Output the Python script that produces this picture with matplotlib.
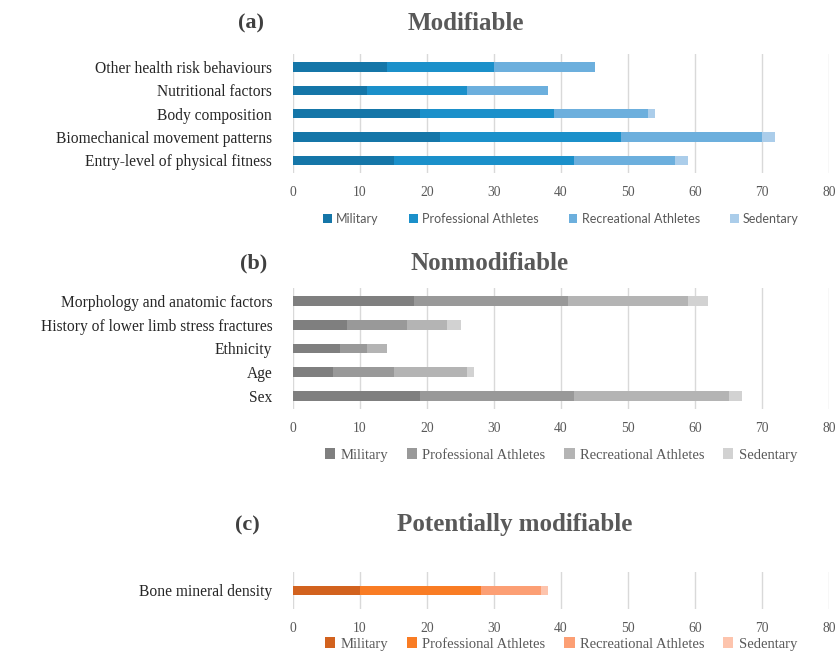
import matplotlib
matplotlib.use("Agg")
import matplotlib.pyplot as plt
import numpy as np

groups = ["Military", "Professional Athletes", "Recreational Athletes", "Sedentary"]

# (a) modifiable, listed top to bottom
mod_labels = ["Other health risk behaviours", "Nutritional factors", "Body composition",
              "Biomechanical movement patterns", "Entry-level of physical fitness"]
mod_military = [14, 11, 19, 22, 15]
mod_pro = [16, 15, 20, 27, 27]
mod_rec = [15, 12, 14, 21, 15]
mod_sed = [0, 0, 1, 2, 2]

# (b) nonmodifiable
non_labels = ["Morphology and anatomic factors", "History of lower limb stress fractures",
              "Ethnicity", "Age", "Sex"]
non_military = [18, 8, 7, 6, 19]
non_pro = [23, 9, 4, 9, 23]
non_rec = [18, 6, 3, 11, 23]
non_sed = [3, 2, 0, 1, 2]

# (c) potentially modifiable
pot_labels = ["Bone mineral density"]
pot_military = [10]
pot_pro = [18]
pot_rec = [9]
pot_sed = [1]

blues = ["#1576a8", "#1b90ca", "#6cafdd", "#abcdea"]
greys = ["#7f7f7f", "#999999", "#b4b4b4", "#d2d2d2"]
oranges = ["#d2621e", "#f97c24", "#fc9f74", "#fdc4ad"]

serif = "Liberation Serif"
txt_grey = "#595959"

fig = plt.figure(figsize=(8.36, 6.52), dpi=100)
H = 652.0
W = 836.0


def panel(top, bottom, labels, series, colors, height, leg_y, leg_font, leg_size, colsp):
    ax = fig.add_axes([293 / W, 1 - bottom / H, (829 - 293) / W, (bottom - top) / H])
    y = np.arange(len(labels))
    left = np.zeros(len(labels))
    for vals, c, name in zip(series, colors, groups):
        ax.barh(y, vals, left=left, height=height, color=c, label=name, zorder=3)
        left += np.array(vals)
    ax.set_xlim(0, 80)
    ax.set_xticks(range(0, 81, 10))
    ax.set_yticks(y)
    ax.set_yticklabels(labels, fontfamily=serif, fontsize=11.2, color="#262626")
    if len(labels) > 1:
        ax.set_ylim(len(labels) - 0.45, -0.55)
    else:
        ax.set_ylim(0.5, -0.5)
    ax.tick_params(axis="y", length=0, pad=15)
    ax.tick_params(axis="x", length=0, pad=9, labelcolor=txt_grey, labelsize=9.8)
    for t in ax.get_xticklabels():
        t.set_fontfamily(serif)
    ax.grid(axis="x", color="#d9d9d9", linewidth=1, zorder=0)
    for s in ax.spines.values():
        s.set_visible(False)
    ax.legend(loc="center", bbox_to_anchor=(0.5, leg_y), ncol=4, frameon=False,
              handlelength=0.7, handleheight=0.7, handletextpad=0.35, columnspacing=colsp,
              prop={"family": leg_font, "size": leg_size}, labelcolor=txt_grey)
    return ax


panel(54, 173, mod_labels, [mod_military, mod_pro, mod_rec, mod_sed], blues, 0.4,
      (173 - 219) / 119, "Lato", 9, 2.4)
panel(288, 409, non_labels, [non_military, non_pro, non_rec, non_sed], greys, 0.4,
      (409 - 455) / 121, serif, 10.5, 1.3)
panel(572, 609, pot_labels, [pot_military, pot_pro, pot_rec, pot_sed], oranges, 0.26,
      (609 - 644) / 37, serif, 10.5, 1.3)

title_kw = dict(fontfamily=serif, fontsize=18, fontweight="bold", color=txt_grey,
                ha="center", va="center")
fig.text(466 / W, 1 - 23 / H, "Modifiable", **title_kw)
fig.text(490 / W, 1 - 263 / H, "Nonmodifiable", **title_kw)
fig.text(515 / W, 1 - 525 / H, "Potentially modifiable", **title_kw)

lab_kw = dict(fontfamily=serif, fontsize=16, fontweight="bold", color="#404040",
              ha="center", va="center")
fig.text(251 / W, 1 - 23 / H, "(a)", **lab_kw)
fig.text(254 / W, 1 - 263 / H, "(b)", **lab_kw)
fig.text(247 / W, 1 - 525 / H, "(c)", **lab_kw)

fig.savefig("out.png", dpi=100)
